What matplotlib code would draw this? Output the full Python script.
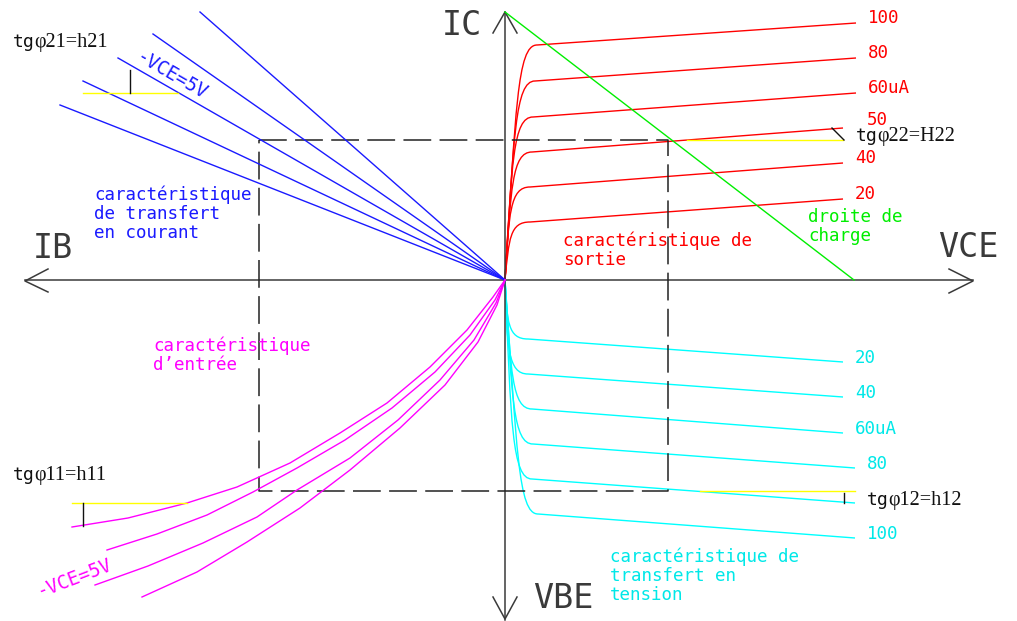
import matplotlib
matplotlib.use("Agg")
import matplotlib.pyplot as plt
from matplotlib.path import Path
from matplotlib.patches import PathPatch

plt.rcParams["lines.scale_dashes"] = False

# drawing units: the sheet is 1017 x 621, y grows downwards, axes cross at ORIGIN
ORIGIN = (505, 280)

# output characteristic IC = f(VCE), one curve per base current
OUT_LABELS = ["100", "80", "60uA", "50", "40", "20"]
OUT_KNEE_X = [537, 535, 533, 532, 530, 530]
OUT_KNEE_Y = [45, 81, 117, 152, 187, 222]
OUT_END_X = [856, 856, 856, 843, 843, 843]
OUT_END_Y = [23, 58, 93, 128, 163, 199]

# voltage transfer VBE = f(VCE)
VT_LABELS = ["20", "40", "60uA", "80", "", "100"]
VT_KNEE_X = [528, 528, 532, 533, 532, 538]
VT_KNEE_Y = [339, 374, 409, 444, 479, 514]
VT_END_X = [843, 843, 843, 855, 855, 855]
VT_END_Y = [362, 397, 433, 468, 503, 538]

# current transfer IC = f(IB), straight lines through the origin
CT_END_X = [200, 153, 118, 83, 60]
CT_END_Y = [12, 34, 58, 81, 105]

# input characteristic VBE = f(IB)
IN_X = [
    [72, 128, 187, 237, 290, 340, 387, 430, 467, 493, 505],
    [107, 157, 207, 253, 297, 345, 392, 435, 470, 495, 505],
    [95, 148, 203, 257, 297, 350, 398, 440, 474, 496, 505],
    [142, 197, 247, 300, 350, 400, 445, 478, 497, 505],
]
IN_Y = [
    [527, 518, 503, 487, 463, 433, 403, 367, 330, 297, 280],
    [550, 534, 515, 492, 468, 440, 408, 372, 335, 300, 280],
    [585, 566, 543, 517, 490, 458, 420, 380, 340, 303, 280],
    [597, 572, 542, 508, 470, 428, 385, 342, 305, 280],
]

# load line
LOAD_X = [505, 854]
LOAD_Y = [12, 280]

# operating point frame
FRAME_X = [259, 668]
FRAME_Y = [140, 491]

# slope construction for each h parameter: yellow reference and black rise
TAN_YELLOW = [((83, 178), (93, 93)), ((687, 843), (140, 140)),
              ((72, 187), (503, 503)), ((700, 855), (491, 491))]
TAN_BLACK = [((130, 130), (70, 93)), ((832, 844), (128, 140)),
             ((83, 83), (503, 526)), ((844, 844), (493, 503))]

CAD = "DejaVu Sans Mono"
SERIF = "Liberation Serif"
AXIS_COLOR = "#3a3a3a"


def knee_path(kx, ky, ex, ey, corner=20):
    """Steep rise out of the origin, rounded knee, then a straight line."""
    ox, oy = ORIGIN
    xv = kx - corner
    verts = [(ox, oy), (xv - 1, ky + 0.28 * (oy - ky)), (xv, ky), (kx, ky), (ex, ey)]
    codes = [Path.MOVETO, Path.CURVE4, Path.CURVE4, Path.CURVE4, Path.LINETO]
    return Path(verts, codes)


def cad_text(ax, x, y, s, color, size=12.6, **kw):
    # y is the baseline of the last line
    ax.text(x, y, s, color=color, fontsize=size, family=CAD,
            va="baseline", linespacing=1.08, **kw)


fig = plt.figure(figsize=(10.17, 6.21), dpi=100)
ax = fig.add_axes([0, 0, 1, 1])
ax.set_xlim(0, 1017)
ax.set_ylim(621, 0)
ax.axis("off")

# axes and open arrow heads
ox, oy = ORIGIN
ax.plot([25, 973], [oy, oy], color=AXIS_COLOR, lw=1.1)
ax.plot([ox, ox], [12, 620], color=AXIS_COLOR, lw=1.1)
ax.plot([48, 25, 48], [269, 281, 292], color=AXIS_COLOR, lw=1.1)
ax.plot([949, 973, 949], [269, 281, 293], color=AXIS_COLOR, lw=1.1)
ax.plot([493, ox, 517], [33, 12, 33], color=AXIS_COLOR, lw=1.1)
ax.plot([493, ox, 517], [597, 619, 597], color=AXIS_COLOR, lw=1.1)

# dashed frame around the working area
fx = [FRAME_X[0], FRAME_X[1], FRAME_X[1], FRAME_X[0], FRAME_X[0]]
fy = [FRAME_Y[0], FRAME_Y[0], FRAME_Y[1], FRAME_Y[1], FRAME_Y[0]]
ax.plot(fx, fy, color="#222222", lw=1.1, dashes=(20, 6))

# output characteristic
for lab, kx, ky, ex, ey in zip(OUT_LABELS, OUT_KNEE_X, OUT_KNEE_Y, OUT_END_X, OUT_END_Y):
    ax.add_patch(PathPatch(knee_path(kx, ky, ex, ey), fill=False, ec="#ff0000", lw=1.0))
    if lab == "50":
        # shifted right and up to leave room for the tg label below
        cad_text(ax, ex + 24, ey - 3, lab, "#ff0000")
    else:
        cad_text(ax, ex + 12, ey, lab, "#ff0000")

# voltage transfer
for lab, kx, ky, ex, ey in zip(VT_LABELS, VT_KNEE_X, VT_KNEE_Y, VT_END_X, VT_END_Y):
    ax.add_patch(PathPatch(knee_path(kx, ky, ex, ey), fill=False, ec="#00ffff", lw=1.0))
    if lab:
        cad_text(ax, ex + 12, ey + 1, lab, "#00e8e8")

# current transfer
for ex, ey in zip(CT_END_X, CT_END_Y):
    ax.plot([ex, ox], [ey, oy], color="#1a1aff", lw=1.0)

# input characteristic
for xs, ys in zip(IN_X, IN_Y):
    ax.plot(xs, ys, color="#ff00ff", lw=1.0)

# load line
ax.plot(LOAD_X, LOAD_Y, color="#00ee00", lw=1.0)

# slope constructions
for (xs, ys) in TAN_YELLOW:
    ax.plot(xs, ys, color="#ffff00", lw=1.0)
for (xs, ys) in TAN_BLACK:
    ax.plot(xs, ys, color="#111111", lw=1.0)

# axis names
for x, y, s in [(462, 35, "IC"), (53, 258, "IB"), (968, 257, "VCE"), (563, 608, "VBE")]:
    ax.text(x, y, s, color=AXIS_COLOR, fontsize=24, family=CAD, ha="center", va="baseline")

# slope labels: "tg" in the drawing font, the rest in serif
for x, y, rest in [(13, 47, "φ21=h21"), (856, 141, "φ22=H22"),
                   (13, 480, "φ11=h11"), (867, 505, "φ12=h12")]:
    cad_text(ax, x, y, "tg", "#111111", size=13)
    ax.text(x + 21, y, rest, color="#111111", fontsize=14.5, family=SERIF, va="baseline")

# region captions
cad_text(ax, 94, 238, "caractéristique\nde transfert\nen courant", "#1a1aff")
cad_text(ax, 563, 265, "caractéristique de\nsortie", "#ff0000")
cad_text(ax, 808, 241, "droite de\ncharge", "#00ee00")
cad_text(ax, 153, 370, "caractéristique\nd’entrée", "#ff00ff")
cad_text(ax, 610, 600, "caractéristique de\ntransfert en\ntension", "#00e8e8")

# VCE parameter on the current-transfer and input curves
ax.text(172, 76, "-VCE=5V", color="#1a1aff", fontsize=13.5, family=CAD,
        rotation=-30, rotation_mode="anchor", ha="center", va="center")
ax.text(75, 578, "-VCE=5V", color="#ff00ff", fontsize=13.5, family=CAD,
        rotation=21, rotation_mode="anchor", ha="center", va="center")

fig.savefig("out.png", dpi=100)
plt.close(fig)
